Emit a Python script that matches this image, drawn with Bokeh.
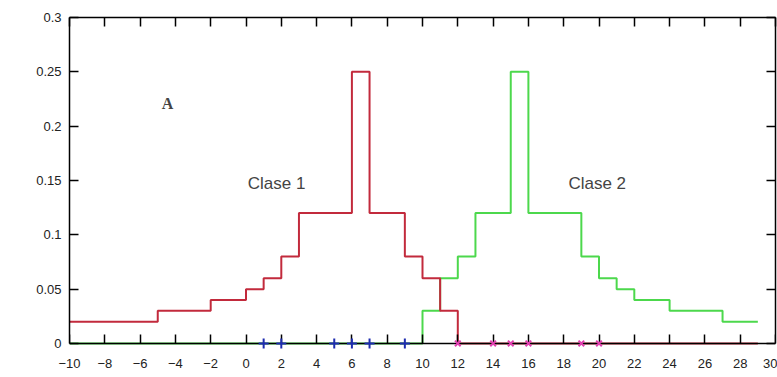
from bokeh.plotting import figure
from bokeh.models import LinearAxis, FixedTicker, Range1d, Label, CustomLabelingPolicy
from bokeh.embed import file_html
from bokeh.resources import INLINE

# Step densities: bin edges and the density value on each bin
clase1_edges = [-10, -5, -2, 0, 1, 2, 3, 6, 7, 9, 10, 11, 12, 29]
clase1_vals = [0.02, 0.03, 0.04, 0.05, 0.06, 0.08, 0.12, 0.25, 0.12, 0.08, 0.06, 0.03, 0.0]

clase2_edges = [-10, 10, 11, 12, 13, 15, 16, 19, 20, 21, 22, 24, 27, 29]
clase2_vals = [0.0, 0.03, 0.06, 0.08, 0.12, 0.25, 0.12, 0.08, 0.06, 0.05, 0.04, 0.03, 0.02]

# Sample points of each class on the axis
clase1_samples = [1, 2, 5, 6, 7, 9]
clase2_samples = [12, 14, 15, 16, 19, 20]

x_ticks = list(range(-10, 31, 2))
y_ticks = [0, 0.05, 0.1, 0.15, 0.2, 0.25, 0.3]
y_tick_labels = {0: "0", 0.05: "0.05", 0.1: "0.1", 0.15: "0.15", 0.2: "0.2", 0.25: "0.25", 0.3: "0.3"}

RED = "#c22a3c"
GREEN = "#4cd84c"
BLUE = "#1e2cb0"
MAGENTA = "#e040b0"
FONT = "Liberation Sans"

Y_MIN, Y_MAX = 0.0, 0.3
# a little room under y=0 so the sample markers are not cut in half
Y_PAD = 0.0074


def step_path(edges, vals):
    xs, ys = [], []
    for i, v in enumerate(vals):
        xs += [edges[i], edges[i + 1]]
        ys += [v, v]
    return xs, ys


p = figure(width=777, height=377, output_backend="svg", toolbar_location=None,
           x_range=Range1d(-10, 30), y_range=Range1d(Y_MIN - Y_PAD, Y_MAX),
           x_axis_location=None, y_axis_location=None,
           min_border_left=69, min_border_right=2, min_border_top=17, min_border_bottom=26)
p.background_fill_color = "white"
p.border_fill_color = "white"
p.outline_line_color = None
p.grid.visible = False

hide_labels = CustomLabelingPolicy(code="return []")


def make_axis(ticks, labels=True, ticks_visible=True, **kw):
    ax = LinearAxis(ticker=FixedTicker(ticks=ticks), **kw)
    ax.major_tick_in = 9
    ax.major_tick_out = 0
    ax.minor_tick_line_color = None
    ax.axis_line_color = "black" if ticks_visible else None
    ax.major_tick_line_color = "black" if ticks_visible else None
    ax.axis_line_width = 1.5
    ax.major_tick_line_width = 1.5
    ax.major_label_text_font = FONT
    ax.major_label_text_font_size = "13px"
    ax.major_label_text_color = "#222222"
    if not labels:
        ax.major_label_policy = hide_labels
        ax.major_label_text_font_size = "0px"
        ax.major_label_standoff = 0
    return ax


# Border line with inward ticks at y = 0, and the x labels just under the frame
x_rule = make_axis(x_ticks, labels=False, fixed_location=Y_MIN)
x_labels = make_axis(x_ticks, ticks_visible=False)
x_labels.major_label_standoff = 7
left = make_axis(y_ticks, bounds=(Y_MIN, Y_MAX))
left.major_label_overrides = y_tick_labels
left.major_label_standoff = 8
top = make_axis(x_ticks, labels=False)
right = make_axis(y_ticks, labels=False, bounds=(Y_MIN, Y_MAX))
p.add_layout(x_labels, "below")
p.add_layout(x_rule, "below")
p.add_layout(left, "left")
p.add_layout(top, "above")
p.add_layout(right, "right")

# Class densities as step curves
x1, y1 = step_path(clase1_edges, clase1_vals)
x2, y2 = step_path(clase2_edges, clase2_vals)
p.line(x2, y2, line_color=GREEN, line_width=2)
p.line(x1, y1, line_color=RED, line_width=2)

# Samples on the x axis
p.scatter(clase1_samples, [0] * len(clase1_samples), marker="cross", size=10,
          line_color=BLUE, line_width=2, level="overlay")
p.scatter(clase2_samples, [0] * len(clase2_samples), marker="x", size=8,
          line_color=MAGENTA, line_width=2, level="overlay")

# Annotations
p.add_layout(Label(x=-4.45, y=0.2204, text="A", text_font="Liberation Serif",
                   text_font_style="bold", text_font_size="16px",
                   text_align="center", text_baseline="middle"))
p.add_layout(Label(x=1.73, y=0.147, text="Clase 1", text_font=FONT,
                   text_font_size="17px", text_align="center", text_baseline="middle"))
p.add_layout(Label(x=19.9, y=0.147, text="Clase 2", text_font=FONT,
                   text_font_size="17px", text_align="center", text_baseline="middle"))

open("out.html", "w").write(file_html(p, INLINE))
